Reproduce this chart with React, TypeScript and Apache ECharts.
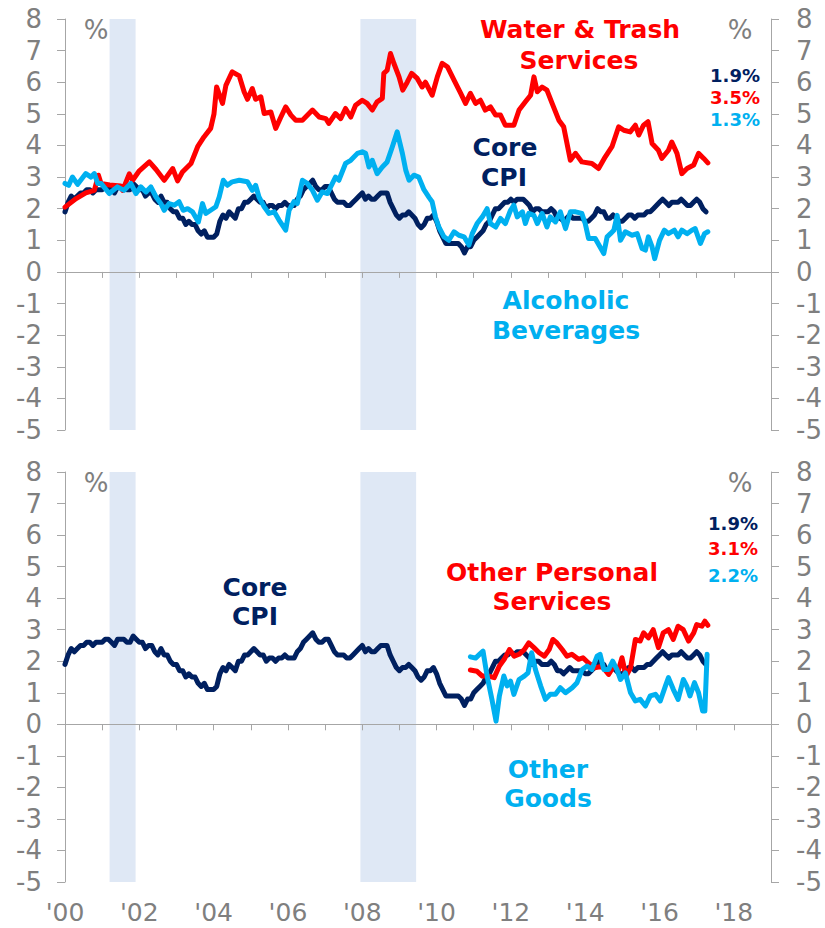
import React, { useEffect, useRef } from 'react';
import * as echarts from 'echarts';

const NAVY = '#002060';
const RED = '#ff0000';
const BLUE = '#00b0f0';
const AXIS_GRAY = '#a6a6a6';
const LABEL_GRAY = '#7f7f7f';
const SHADE = '#dfe8f5';

// x-axis tick labels
const yearTicks = [2000, 2002, 2004, 2006, 2008, 2010, 2012, 2014, 2016, 2018];
const yearLabels = ["'00", "'02", "'04", "'06", "'08", "'10", "'12", "'14", "'16", "'18"];

// recessions (start, end) in decimal years
const recessions = [
  [2001.2, 2001.9],
  [2007.95, 2009.45],
];

// Core CPI, monthly y/y %, Jan 2000 - Apr 2017
const coreStart = 2000;
const coreValues = [
  1.9, 2.2, 2.4, 2.3, 2.4, 2.5, 2.5, 2.6, 2.6, 2.5, 2.6, 2.6,
  2.6, 2.7, 2.7, 2.6, 2.5, 2.7, 2.7, 2.7, 2.6, 2.6, 2.8, 2.7,
  2.6, 2.6, 2.4, 2.5, 2.5, 2.3, 2.2, 2.4, 2.2, 2.2, 2.0, 1.9,
  1.9, 1.7, 1.7, 1.5, 1.6, 1.5, 1.5, 1.3, 1.2, 1.3, 1.1, 1.1,
  1.1, 1.2, 1.6, 1.8, 1.7, 1.9, 1.8, 1.7, 2.0, 2.0, 2.2, 2.2,
  2.3, 2.4, 2.3, 2.2, 2.2, 2.0, 2.1, 2.1, 2.0, 2.1, 2.1, 2.2,
  2.1, 2.1, 2.1, 2.3, 2.4, 2.6, 2.7, 2.8, 2.9, 2.7, 2.6, 2.6,
  2.7, 2.7, 2.5, 2.3, 2.2, 2.2, 2.2, 2.1, 2.1, 2.2, 2.3, 2.4,
  2.5, 2.3, 2.4, 2.3, 2.3, 2.4, 2.5, 2.5, 2.5, 2.2, 2.0, 1.8,
  1.7, 1.8, 1.8, 1.9, 1.8, 1.7, 1.5, 1.4, 1.5, 1.7, 1.7, 1.8,
  1.6, 1.3, 1.1, 0.9, 0.9, 0.9, 0.9, 0.9, 0.8, 0.6, 0.8, 0.8,
  1.0, 1.1, 1.2, 1.3, 1.5, 1.6, 1.8, 2.0, 2.0, 2.1, 2.2, 2.2,
  2.3, 2.2, 2.3, 2.3, 2.3, 2.2, 2.1, 1.9, 2.0, 2.0, 1.9, 1.9,
  1.9, 2.0, 1.9, 1.7, 1.7, 1.6, 1.7, 1.8, 1.7, 1.7, 1.7, 1.7,
  1.6, 1.6, 1.7, 1.8, 2.0, 1.9, 1.9, 1.7, 1.7, 1.8, 1.7, 1.6,
  1.6, 1.7, 1.8, 1.8, 1.7, 1.8, 1.8, 1.8, 1.9, 1.9, 2.0, 2.1,
  2.2, 2.3, 2.2, 2.1, 2.2, 2.2, 2.2, 2.3, 2.2, 2.1, 2.1, 2.2,
  2.3, 2.2, 2.0, 1.9,
];
const coreYears = coreValues.map((_, i) => coreStart + i / 12);

// Water & Trash Services
const waterYears = [
  2000.0, 2000.3, 2000.56, 2000.79, 2000.9, 2000.97, 2001.2, 2001.5, 2001.55, 2001.73, 2001.82,
  2002.0, 2002.27, 2002.45, 2002.67, 2002.9, 2003.03, 2003.16, 2003.39, 2003.57, 2003.74, 2003.92,
  2004.01, 2004.08, 2004.24, 2004.33, 2004.5, 2004.69, 2004.82, 2004.91, 2005.04, 2005.13, 2005.27,
  2005.36, 2005.54, 2005.67, 2005.81, 2005.94, 2006.08, 2006.21, 2006.39, 2006.66, 2006.84, 2007.02,
  2007.1, 2007.28, 2007.42, 2007.55, 2007.69, 2007.82, 2008.0, 2008.13, 2008.27, 2008.4, 2008.54,
  2008.58, 2008.67, 2008.76, 2008.85, 2008.99, 2009.09, 2009.21, 2009.33, 2009.48, 2009.61, 2009.7,
  2009.88, 2010.02, 2010.15, 2010.29, 2010.47, 2010.65, 2010.78, 2010.91, 2011.05, 2011.18, 2011.31,
  2011.45, 2011.59, 2011.72, 2011.85, 2012.08, 2012.22, 2012.39, 2012.53, 2012.62, 2012.71, 2012.84,
  2012.97, 2013.11, 2013.29, 2013.42, 2013.51, 2013.6, 2013.74, 2013.91, 2014.18, 2014.36, 2014.54,
  2014.72, 2014.9, 2015.04, 2015.21, 2015.35, 2015.44, 2015.57, 2015.69, 2015.8, 2015.97, 2016.06,
  2016.24, 2016.33, 2016.47, 2016.6, 2016.74, 2016.92, 2017.05, 2017.19, 2017.3,
];
const waterValues = [
  2.05, 2.32, 2.5, 2.58, 3.06, 2.8, 2.75, 2.72, 2.58, 3.1, 2.9,
  3.2, 3.48, 3.24, 2.9, 3.27, 2.88, 3.16, 3.43, 3.96, 4.27, 4.54,
  5.0, 5.85, 5.33, 5.9, 6.33, 6.2, 5.7, 5.46, 5.8, 5.46, 5.54,
  5.01, 5.06, 4.54, 4.9, 5.22, 4.96, 4.8, 4.8, 5.12, 4.9, 4.85,
  4.7, 5.01, 4.85, 5.17, 4.9, 5.27, 5.43, 5.33, 5.12, 5.38, 5.49,
  6.28, 6.38, 6.91, 6.6, 6.17, 5.75, 6.0, 6.28, 6.12, 5.85, 6.0,
  5.59, 6.17, 6.6, 6.49, 6.07, 5.65, 5.33, 5.65, 5.33, 5.43, 5.12,
  5.22, 4.96, 4.96, 4.64, 4.64, 5.12, 5.38, 5.59, 6.17, 5.7, 5.85,
  5.75, 5.33, 4.8, 4.59, 4.06, 3.53, 3.75, 3.48, 3.43, 3.27, 3.64,
  3.96, 4.59, 4.48, 4.43, 4.64, 4.33, 4.64, 4.75, 4.06, 3.85, 3.59,
  3.85, 4.11, 3.75, 3.11, 3.27, 3.38, 3.75, 3.59, 3.45,
];

// Alcoholic Beverages
const alcoholYears = [
  2000.0, 2000.1, 2000.2, 2000.34, 2000.56, 2000.7, 2000.79, 2000.88, 2000.97, 2001.19, 2001.41,
  2001.59, 2001.77, 2001.91, 2002.04, 2002.18, 2002.31, 2002.45, 2002.58, 2002.67, 2002.8, 2002.94,
  2003.07, 2003.18, 2003.3, 2003.43, 2003.59, 2003.7, 2003.79, 2003.92, 2004.06, 2004.15, 2004.26,
  2004.37, 2004.5, 2004.69, 2004.91, 2005.04, 2005.13, 2005.22, 2005.36, 2005.49, 2005.63, 2005.76,
  2005.94, 2006.03, 2006.16, 2006.25, 2006.39, 2006.52, 2006.66, 2006.79, 2006.92, 2007.06, 2007.28,
  2007.37, 2007.55, 2007.69, 2007.87, 2008.0, 2008.09, 2008.18, 2008.27, 2008.4, 2008.54, 2008.67,
  2008.81, 2008.94, 2009.08, 2009.17, 2009.26, 2009.39, 2009.52, 2009.66, 2009.8, 2009.88, 2009.97,
  2010.06, 2010.2, 2010.33, 2010.47, 2010.6, 2010.74, 2010.87, 2010.96, 2011.09, 2011.23, 2011.36,
  2011.45, 2011.59, 2011.72, 2011.85, 2011.99, 2012.08, 2012.17, 2012.31, 2012.39, 2012.48, 2012.62,
  2012.71, 2012.84, 2012.97, 2013.06, 2013.2, 2013.33, 2013.47, 2013.6, 2013.74, 2013.91, 2014.0,
  2014.09, 2014.27, 2014.4, 2014.5, 2014.59, 2014.68, 2014.77, 2014.86, 2014.95, 2015.08, 2015.26,
  2015.4, 2015.53, 2015.62, 2015.7, 2015.8, 2015.87, 2016.0, 2016.13, 2016.24, 2016.4, 2016.5,
  2016.6, 2016.74, 2016.87, 2016.96, 2017.1, 2017.21, 2017.3,
];
const alcoholValues = [
  2.8, 2.74, 3.0, 2.77, 3.11, 3.0, 3.11, 2.8, 2.8, 2.48, 2.69,
  2.58, 2.8, 2.48, 2.69, 2.53, 2.69, 2.37, 2.16, 1.95, 2.16, 2.11,
  2.22, 1.95, 2.0, 1.9, 1.58, 2.16, 1.85, 1.95, 2.06, 2.37, 2.9,
  2.74, 2.85, 2.9, 2.85, 2.58, 2.74, 2.37, 2.06, 1.85, 1.9, 1.64,
  1.32, 1.95, 2.22, 2.16, 2.9, 2.8, 2.58, 2.27, 2.53, 2.48, 3.0,
  2.9, 3.43, 3.53, 3.75, 3.8, 3.75, 3.32, 3.53, 3.11, 3.32, 3.48,
  3.96, 4.43, 3.75, 3.22, 2.9, 3.06, 3.0, 2.6, 2.35, 2.22, 1.74,
  1.42, 1.11, 1.0, 1.27, 1.16, 1.11, 0.85, 1.21, 1.53, 1.74, 2.0,
  1.53, 1.42, 1.69, 1.53, 1.95, 2.11, 1.74, 1.9, 1.53, 1.85, 1.79,
  1.53, 1.85, 1.42, 1.74, 1.58, 1.9, 1.37, 1.9, 1.9, 1.85, 1.53,
  1.06, 1.06, 0.79, 0.58, 1.11, 1.21, 1.32, 1.79, 1.0, 1.27, 1.16,
  1.21, 0.74, 0.69, 1.11, 0.79, 0.42, 1.0, 1.32, 1.21, 1.32, 1.11,
  1.32, 1.21, 1.32, 1.37, 0.9, 1.21, 1.27,
];

// Other Personal Services
const personalYears = [
  2010.91, 2011.09, 2011.23, 2011.4, 2011.55, 2011.69, 2011.82, 2011.96, 2012.09, 2012.22,
  2012.36, 2012.48, 2012.62, 2012.76, 2012.9, 2013.03, 2013.13, 2013.24, 2013.38, 2013.51,
  2013.64, 2013.82, 2013.94, 2014.08, 2014.26, 2014.45, 2014.63, 2014.77, 2014.9, 2014.99,
  2015.1, 2015.22, 2015.35, 2015.48, 2015.57, 2015.7, 2015.83, 2015.97, 2016.1, 2016.24,
  2016.37, 2016.5, 2016.64, 2016.78, 2016.92, 2017.0, 2017.14, 2017.22, 2017.3,
];
const personalValues = [
  1.72, 1.68, 1.53, 1.53, 1.48, 1.85, 2.06, 2.37, 2.16, 2.22,
  2.37, 2.58, 2.43, 2.27, 2.16, 2.37, 2.69, 2.58, 2.37, 2.16,
  2.22, 2.06, 2.11, 1.95, 1.79, 1.84, 1.58, 1.85, 1.74, 2.11,
  1.53, 1.79, 2.69, 2.64, 2.9, 2.74, 3.0, 2.43, 2.9, 3.0,
  2.69, 3.11, 3.0, 2.64, 2.9, 3.16, 3.11, 3.27, 3.14,
];

// Other Goods
const goodsYears = [
  2010.91, 2011.05, 2011.14, 2011.25, 2011.36, 2011.49, 2011.6, 2011.69, 2011.81, 2011.9,
  2011.99, 2012.08, 2012.22, 2012.36, 2012.46, 2012.56, 2012.66, 2012.8, 2012.93, 2013.06,
  2013.2, 2013.33, 2013.47, 2013.65, 2013.78, 2013.92, 2014.05, 2014.18, 2014.32, 2014.4,
  2014.5, 2014.63, 2014.74, 2014.85, 2014.95, 2015.08, 2015.22, 2015.35, 2015.48, 2015.62,
  2015.75, 2015.89, 2016.02, 2016.16, 2016.24, 2016.37, 2016.5, 2016.64, 2016.73, 2016.82,
  2016.94, 2017.05, 2017.16, 2017.22, 2017.28,
];
const goodsValues = [
  2.14, 2.1, 2.2, 2.32, 1.53, 0.79, 0.1, 0.9, 1.53, 1.22,
  1.37, 0.95, 1.42, 1.53, 1.63, 2.27, 1.74, 1.22, 0.79, 0.95,
  0.95, 1.16, 1.0, 1.16, 1.32, 1.74, 1.85, 1.74, 2.16, 2.22,
  1.74, 1.74, 2.0, 1.74, 1.42, 1.63, 1.0, 0.74, 0.79, 0.58,
  0.9, 0.95, 0.74, 1.22, 1.48, 1.11, 0.79, 1.42, 1.22, 0.9,
  1.32, 1.0, 0.42, 0.42, 2.22,
];

const zip = (xs: number[], ys: number[]) => xs.map((x, i) => [x, ys[i]]);

const FONT = '"DejaVu Sans", Verdana, sans-serif';

function yAxis(gridIndex: number, position: 'left' | 'right') {
  return {
    type: 'value',
    gridIndex,
    position,
    min: -5,
    max: 8,
    interval: 1,
    z: 1.5,
    axisLine: { show: true, onZero: false, lineStyle: { color: AXIS_GRAY, width: 1 } },
    axisTick: { show: true, length: 8, lineStyle: { color: AXIS_GRAY } },
    axisLabel: {
      color: LABEL_GRAY,
      fontSize: 26,
      fontFamily: FONT,
      margin: position === 'left' ? 23 : 25,
    },
    splitLine: { show: false },
  };
}

function xZeroAxis(gridIndex: number) {
  return {
    type: 'value',
    gridIndex,
    min: 2000,
    max: 2019,
    interval: 1,
    z: 1.5,
    axisLine: { show: true, onZero: true, lineStyle: { color: AXIS_GRAY, width: 1 } },
    axisTick: { show: true, length: 6, lineStyle: { color: AXIS_GRAY } },
    axisLabel: { show: false },
    splitLine: { show: false },
  };
}

function lineSeries(name: string, data: number[][], color: string, xAxisIndex: number, yAxisIndex: number) {
  return {
    name,
    type: 'line',
    xAxisIndex,
    yAxisIndex,
    data,
    showSymbol: false,
    symbol: 'none',
    z: 3,
    lineStyle: { color, width: 5, join: 'round', cap: 'round' },
    silent: true,
  };
}

function shadeSeries(xAxisIndex: number, yAxisIndex: number) {
  return {
    type: 'line',
    xAxisIndex,
    yAxisIndex,
    data: [],
    z: 1,
    silent: true,
    markArea: {
      silent: true,
      itemStyle: { color: SHADE },
      data: recessions.map(([a, b]) => [{ xAxis: a }, { xAxis: b }]),
    },
  };
}

function txt(text: string, x: number, y: number, color: string, size: number, bold: boolean, align = 'center') {
  return {
    type: 'text',
    x,
    y,
    z: 10,
    style: {
      text,
      fill: color,
      font: `${bold ? 'bold ' : ''}${size}px ${FONT}`,
      align,
      verticalAlign: 'middle',
    },
  };
}

export default function App() {
  const ref = useRef<HTMLDivElement>(null);
  useEffect(() => {
    if (!ref.current) return;
    const chart = echarts.init(ref.current, undefined, { renderer: 'svg' });
    const option = {
      animation: false,
      backgroundColor: '#ffffff',
      grid: [
        { left: 65, right: 54, top: 19, height: 411 },
        { left: 65, right: 54, top: 472, height: 410 },
      ],
      xAxis: [
        xZeroAxis(0),
        xZeroAxis(1),
        {
          type: 'value',
          gridIndex: 1,
          position: 'bottom',
          min: 2000,
          max: 2019,
          interval: 1,
          axisLine: { show: false, onZero: false },
          axisTick: { show: false },
          splitLine: { show: false },
          axisLabel: {
            show: true,
            color: LABEL_GRAY,
            fontSize: 25,
            fontFamily: FONT,
            margin: 18,
            formatter: (v: number) => {
              const i = yearTicks.indexOf(Math.round(v));
              return i >= 0 && Math.abs(v - yearTicks[i]) < 1e-6 ? yearLabels[i] : '';
            },
          },
        },
      ],
      yAxis: [yAxis(0, 'left'), yAxis(0, 'right'), yAxis(1, 'left'), yAxis(1, 'right')],
      series: [
        shadeSeries(0, 0),
        lineSeries('Core CPI', zip(coreYears, coreValues), NAVY, 0, 0),
        lineSeries('Water & Trash Services', zip(waterYears, waterValues), RED, 0, 0),
        lineSeries('Alcoholic Beverages', zip(alcoholYears, alcoholValues), BLUE, 0, 0),
        shadeSeries(1, 2),
        lineSeries('Core CPI ', zip(coreYears, coreValues), NAVY, 1, 2),
        lineSeries('Other Personal Services', zip(personalYears, personalValues), RED, 1, 2),
        lineSeries('Other Goods', zip(goodsYears, goodsValues), BLUE, 1, 2),
      ],
      graphic: [
        txt('%', 96, 30, LABEL_GRAY, 26, false),
        txt('%', 740, 30, LABEL_GRAY, 26, false),
        txt('Water & Trash', 580, 29, RED, 25, true),
        txt('Services', 579, 60, RED, 25, true),
        txt('Core', 505, 147, NAVY, 25, true),
        txt('CPI', 504, 177, NAVY, 25, true),
        txt('Alcoholic', 566, 300, BLUE, 25, true),
        txt('Beverages', 566, 330, BLUE, 25, true),
        txt('1.9%', 760, 75, NAVY, 18, true, 'right'),
        txt('3.5%', 760, 97, RED, 18, true, 'right'),
        txt('1.3%', 760, 119, BLUE, 18, true, 'right'),

        txt('%', 96, 483, LABEL_GRAY, 26, false),
        txt('%', 740, 483, LABEL_GRAY, 26, false),
        txt('Core', 255, 587, NAVY, 25, true),
        txt('CPI', 255, 616, NAVY, 25, true),
        txt('Other Personal', 552, 572, RED, 25, true),
        txt('Services', 552, 601, RED, 25, true),
        txt('Other', 548, 769, BLUE, 25, true),
        txt('Goods', 548, 798, BLUE, 25, true),
        txt('1.9%', 758, 523, NAVY, 18, true, 'right'),
        txt('3.1%', 758, 548, RED, 18, true, 'right'),
        txt('2.2%', 758, 575, BLUE, 18, true, 'right'),
      ],
    };
    chart.setOption(option as any);
    return () => chart.dispose();
  }, []);
  return (
    <div
      ref={ref}
      style={{ position: 'absolute', left: 0, top: 0, width: 825, height: 928, background: '#fff' }}
    />
  );
}
